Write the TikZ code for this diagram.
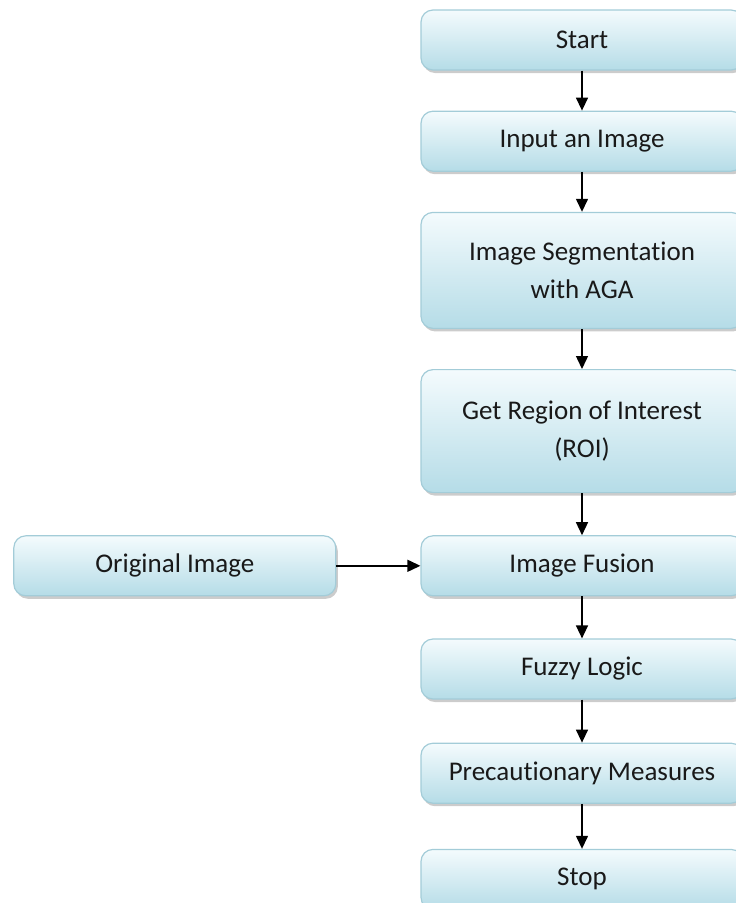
\documentclass[tikz,border=0pt]{standalone}
\usepackage{fontspec}
\setmainfont{Carlito}[Ligatures=NoCommon]
\usetikzlibrary{arrows.meta,positioning,shadows}
\definecolor{boxtop}{HTML}{F4FBFD}
\definecolor{boxbottom}{HTML}{B5DCE7}
\definecolor{boxline}{HTML}{A3CCD8}
\tikzstyle{every node}=[font=\fontsize{27}{38}\selectfont,text=black!90]
\tikzstyle{stepbox}=[rectangle,rounded corners=12pt,draw=boxline,line width=1.2pt,
  top color=boxtop,bottom color=boxbottom,minimum width=322pt,minimum height=60pt,
  align=center,drop shadow={shadow xshift=2pt,shadow yshift=-3pt,fill=black!40,opacity=0.5}]
\tikzstyle{bigbox}=[stepbox,minimum height=116pt]
\tikzstyle{every edge}=[draw,line width=1.4pt,-{Triangle[length=13pt,width=12pt]}]

\begin{document}
\begin{tikzpicture}[x=1pt,y=1pt,node distance=40pt]
  \clip[use as bounding box] (0,0) rectangle (736,-903);
  \node[stepbox]          (start)                     at (582,-40) {Start};
  \node[stepbox]          (input)   [below=of start]  {Input an Image};
  \node[bigbox]           (segment) [below=of input]  {Image Segmentation\\with AGA};
  \node[bigbox,minimum height=123pt] (roi) [below=of segment] {Get Region of Interest\\(ROI)};
  \node[stepbox]          (fusion)  [below=42pt of roi]    {Image Fusion};
  \node[stepbox]          (fuzzy)   [below=42pt of fusion] {Fuzzy Logic};
  \node[stepbox]          (measure) [below=43pt of fuzzy]  {Precautionary Measures};
  \node[stepbox]          (stop)    [below=45pt of measure] {Stop};
  \node[stepbox]          (orig)    [left=84pt of fusion] {Original Image};

  \path (start) edge (input)
    (input) edge (segment)
    (segment) edge (roi)
    (roi) edge (fusion)
    (fusion) edge (fuzzy)
    (fuzzy) edge (measure)
    (measure) edge (stop)
    (orig) edge (fusion);
\end{tikzpicture}
\end{document}
